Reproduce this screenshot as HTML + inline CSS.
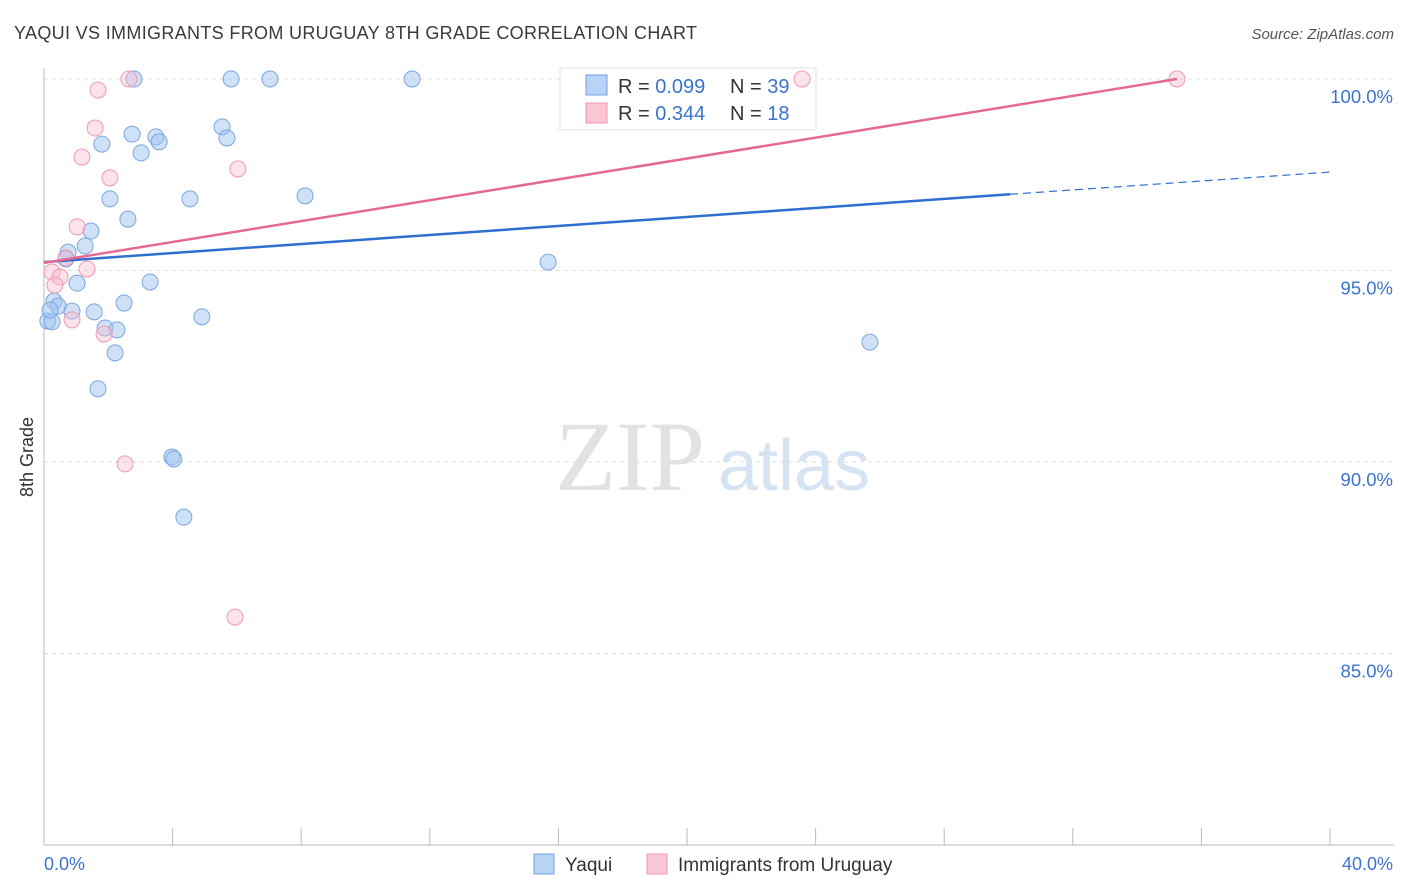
<!DOCTYPE html>
<html><head><meta charset="utf-8"><style>
body{margin:0;background:#fff;font-family:"Liberation Sans",sans-serif;}
svg{display:block}
</style></head><body>
<svg id="c" width="1406" height="892">
<text x="14" y="39" font-size="18" fill="#3a3a3a" textLength="683">YAQUI VS IMMIGRANTS FROM URUGUAY 8TH GRADE CORRELATION CHART</text>
<text x="1394" y="39" font-size="15" fill="#555" font-style="italic" text-anchor="end">Source: ZipAtlas.com</text>
<text x="33" y="457" font-size="18" fill="#333" transform="rotate(-90 33 457)" text-anchor="middle">8th Grade</text>
<text x="555" y="490" font-size="100" fill="#e2e2e2" font-family="Liberation Serif,serif">ZIP</text>
<text x="718" y="490" font-size="72" fill="#d6e3f3">atlas</text>
<g id="grid"></g>
<g>
<rect x="560" y="68" width="256" height="62" fill="#fff" stroke="#ddd"/>
<rect x="586" y="75" width="21" height="20" fill="#b8d3f5" stroke="#6f9fe0"/>
<rect x="586" y="103" width="21" height="20" fill="#f9c6d4" stroke="#ec94ae"/>
<text x="618" y="93" font-size="20" fill="#333">R = <tspan fill="#3a73d0">0.099</tspan></text>
<text x="730" y="93" font-size="20" fill="#333">N = <tspan fill="#3a73d0">39</tspan></text>
<text x="618" y="120" font-size="20" fill="#333">R = <tspan fill="#3a73d0">0.344</tspan></text>
<text x="730" y="120" font-size="20" fill="#333">N = <tspan fill="#3a73d0"> 18</tspan></text>
</g>
<g id="pts"></g><g id="lines"></g>
<g>
<rect x="534" y="854" width="20" height="20" fill="#b8d3f5" stroke="#6f9fe0"/>
<text x="565" y="871" font-size="19" fill="#333">Yaqui</text>
<rect x="647" y="854" width="20" height="20" fill="#f9c6d4" stroke="#ec94ae"/>
<text x="678" y="871" font-size="19" fill="#333">Immigrants from Uruguay</text>
</g>
<text x="44" y="870" font-size="18" fill="#3a73d0">0.0%</text>
<text x="1393" y="870" font-size="18" fill="#3a73d0" text-anchor="end">40.0%</text>
</svg>
<script>
const yTicks=[100,95,90,85];
const blueX=[2.80,5.82,7.03,11.45,2.74,3.48,3.58,5.54,5.69,1.80,3.02,2.05,4.54,8.12,2.61,1.46,1.28,0.75,0.68,15.68,1.03,3.30,0.31,0.44,0.87,1.56,2.49,4.91,0.12,0.25,1.90,2.27,2.21,25.69,1.68,3.98,4.04,4.35,0.19];
const blueY=[100,100,100,100,98.56,98.49,98.36,98.75,98.46,98.30,98.07,96.87,96.87,96.95,96.34,96.03,95.64,95.48,95.30,95.22,94.67,94.70,94.20,94.07,93.94,93.92,94.15,93.79,93.68,93.66,93.50,93.45,92.85,93.13,91.91,90.13,90.08,88.56,93.97];
const pinkX=[2.64,23.58,35.24,1.68,1.59,1.18,2.05,6.03,1.03,0.68,1.34,0.25,0.50,0.34,0.87,1.87,2.52,5.94];
const pinkY=[100,100,100,99.71,98.72,97.96,97.42,97.65,96.14,95.33,95.04,94.96,94.83,94.62,93.71,93.34,89.95,85.95];
const blueTrend=[95.22,96.99,97.57];
const blueTrendX=[0,30.05,40];
const pinkTrend=[95.20,100];
const pinkTrendX=[0,35.24];
const sx=v=>44+v/40*1286, sy=v=>79+(100-v)*38.3;
const NS="http://www.w3.org/2000/svg";
function mk(t,a,p){const e=document.createElementNS(NS,t);for(const k in a)e.setAttribute(k,a[k]);p.appendChild(e);return e;}
const g=document.getElementById('grid');
yTicks.forEach(t=>{
 const l=mk('line',{x1:44,x2:1394,y1:sy(t),y2:sy(t),stroke:'#ddd','stroke-dasharray':'4 4'},g);
 
 
 const tx=mk('text',{x:1393,y:sy(t)+24,'font-size':18.5,fill:'#3a73d0','text-anchor':'end'},g);
 tx.textContent=t.toFixed(1)+'%';
 
 
});
const ax=mk('line',{x1:44,x2:44,y1:68,y2:845,stroke:'#bbb'},g);


const bx=mk('line',{x1:44,x2:1394,y1:845,y2:845,stroke:'#bbb'},g);


for(let i=0;i<=10;i++){const t=mk('line',{x1:sx(i*4),x2:sx(i*4),y1:828,y2:845,stroke:'#bbb'},g);
 
 }
const p=document.getElementById('pts');
blueX.forEach((x,i)=>{const c=mk('circle',{cx:sx(x),cy:sy(blueY[i]),r:8,fill:'rgba(160,196,240,0.5)',stroke:'#7aa6e2','stroke-width':1},p);
 
 });
pinkX.forEach((x,i)=>{const c=mk('circle',{cx:sx(x),cy:sy(pinkY[i]),r:8,fill:'rgba(248,190,208,0.45)',stroke:'#ee9ab3','stroke-width':1},p);
 
 });
const L=document.getElementById('lines');
const b1=mk('line',{x1:sx(blueTrendX[0]),y1:sy(blueTrend[0]),x2:sx(blueTrendX[1]),y2:sy(blueTrend[1]),stroke:'#2f6fcf','stroke-width':2.5},L);


const b2=mk('line',{x1:sx(blueTrendX[1]),y1:sy(blueTrend[1]),x2:sx(blueTrendX[2]),y2:sy(blueTrend[2]),stroke:'#2f6fcf','stroke-width':1.2,'stroke-dasharray':'8 5'},L);


const p1=mk('line',{x1:sx(pinkTrendX[0]),y1:sy(pinkTrend[0]),x2:sx(pinkTrendX[1]),y2:sy(pinkTrend[1]),stroke:'#e46a93','stroke-width':2.5},L);


</script>
</body></html>
